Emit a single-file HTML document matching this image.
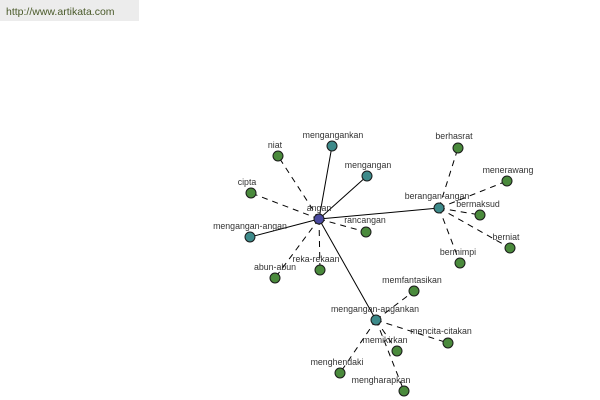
<!DOCTYPE html>
<html><head><style>
html,body{margin:0;padding:0;background:#fff;width:600px;height:400px;overflow:hidden}
svg{display:block}
text{font-family:"Liberation Sans",sans-serif;font-size:8.8px;fill:#333;text-anchor:middle}
</style></head><body>
<svg width="600" height="400" xmlns="http://www.w3.org/2000/svg">
<rect x="0" y="0" width="139" height="21" fill="#ececec"/>
<text x="6" y="15" style="text-anchor:start;font-size:10.5px;fill:#4a5a2a">http://www.artikata.com</text>
<g stroke="#000" stroke-width="1">
<line x1="319" y1="219" x2="332" y2="146"/>
<line x1="319" y1="219" x2="367" y2="176"/>
<line x1="319" y1="219" x2="250" y2="237"/>
<line x1="319" y1="219" x2="439" y2="208"/>
<line x1="319" y1="219" x2="376" y2="320"/>
</g>
<g stroke="#000" stroke-width="1" stroke-dasharray="6,5">
<line x1="319" y1="219" x2="278" y2="156"/>
<line x1="319" y1="219" x2="251" y2="193"/>
<line x1="319" y1="219" x2="366" y2="232"/>
<line x1="319" y1="219" x2="275" y2="278"/>
<line x1="319" y1="219" x2="320" y2="270"/>
<line x1="439" y1="208" x2="458" y2="148"/>
<line x1="439" y1="208" x2="507" y2="181"/>
<line x1="439" y1="208" x2="480" y2="215"/>
<line x1="439" y1="208" x2="510" y2="248"/>
<line x1="439" y1="208" x2="460" y2="263"/>
<line x1="376" y1="320" x2="414" y2="291"/>
<line x1="376" y1="320" x2="448" y2="343"/>
<line x1="376" y1="320" x2="397" y2="351"/>
<line x1="376" y1="320" x2="340" y2="373"/>
<line x1="376" y1="320" x2="404" y2="391"/>
</g>
<g stroke="#1a1a1a" stroke-width="1">
<g fill="#3d8a8a">
<circle cx="332" cy="146" r="5"/><circle cx="367" cy="176" r="5"/><circle cx="250" cy="237" r="5"/><circle cx="439" cy="208" r="5"/><circle cx="376" cy="320" r="5"/>
</g>
<g fill="#4a8a3c">
<circle cx="278" cy="156" r="5"/><circle cx="251" cy="193" r="5"/><circle cx="366" cy="232" r="5"/><circle cx="275" cy="278" r="5"/><circle cx="320" cy="270" r="5"/>
<circle cx="458" cy="148" r="5"/><circle cx="507" cy="181" r="5"/><circle cx="480" cy="215" r="5"/><circle cx="510" cy="248" r="5"/><circle cx="460" cy="263" r="5"/>
<circle cx="414" cy="291" r="5"/><circle cx="448" cy="343" r="5"/><circle cx="397" cy="351" r="5"/><circle cx="340" cy="373" r="5"/><circle cx="404" cy="391" r="5"/>
</g>
<circle cx="319" cy="219" r="5" fill="#4a4aa0"/>
</g>
<g>
<text x="333" y="138">mengangankan</text>
<text x="368" y="168">mengangan</text>
<text x="275" y="148">niat</text>
<text x="247" y="185">cipta</text>
<text x="250" y="229">mengangan-angan</text>
<text x="319" y="211">angan</text>
<text x="365" y="223">rancangan</text>
<text x="316" y="262">reka-rekaan</text>
<text x="275" y="270">abun-abun</text>
<text x="437" y="199">berangan-angan</text>
<text x="454" y="139">berhasrat</text>
<text x="508" y="173">menerawang</text>
<text x="478" y="207">bermaksud</text>
<text x="506" y="240">berniat</text>
<text x="458" y="255">bermimpi</text>
<text x="412" y="283">memfantasikan</text>
<text x="375" y="312">mengangan-angankan</text>
<text x="441" y="334">mencita-citakan</text>
<text x="385" y="343">memikirkan</text>
<text x="337" y="365">menghendaki</text>
<text x="381" y="383">mengharapkan</text>
</g>
</svg>
</body></html>
